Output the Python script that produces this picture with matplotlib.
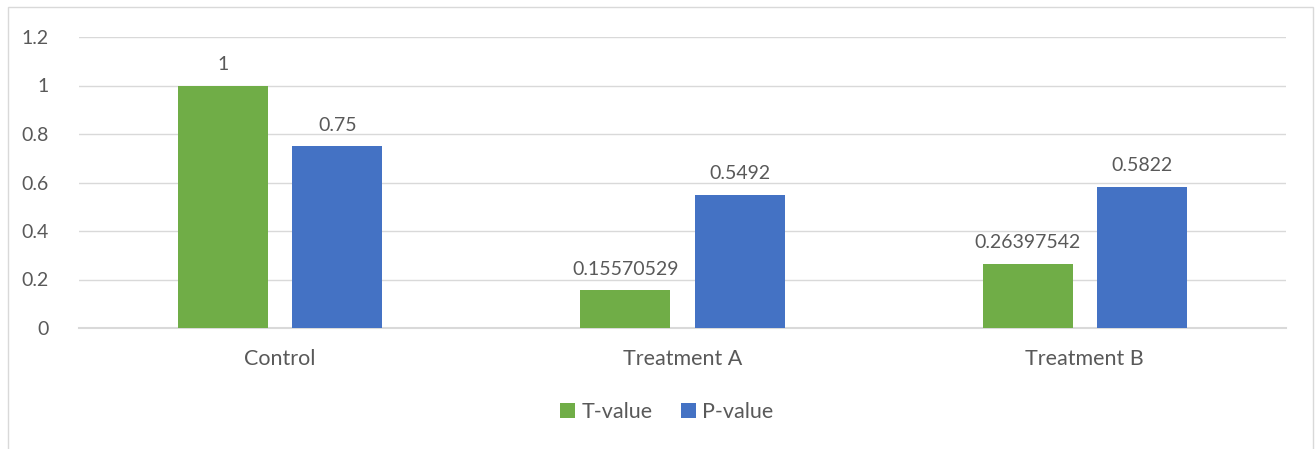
import numpy as np
import matplotlib.pyplot as plt
from matplotlib.patches import Rectangle

categories = ['Control', 'Treatment A', 'Treatment B']
t_values = [1, 0.15570529, 0.26397542]
p_values = [0.75, 0.5492, 0.5822]
t_labels = ['1', '0.15570529', '0.26397542']
p_labels = ['0.75', '0.5492', '0.5822']
yticks = [0, 0.2, 0.4, 0.6, 0.8, 1, 1.2]
ytick_labels = ['0', '0.2', '0.4', '0.6', '0.8', '1', '1.2']

plt.rcParams['font.family'] = ['Lato', 'DejaVu Sans']
text_color = '#595959'
grid_color = '#D9D9D9'

W, H = 1315, 449
fig = plt.figure(figsize=(W / 100, H / 100), dpi=100)
ax = fig.add_axes([79 / W, 1 - 328 / H, (1286 - 79) / W, (328 - 37) / H])

# chart border
fig.patches.append(Rectangle((8 / W, -0.01), (1313 - 8) / W, 1.01 - 7 / H,
                             transform=fig.transFigure, fill=False,
                             edgecolor=grid_color, linewidth=1))

x = np.arange(len(categories))
width = 0.224
offset = 0.142
b1 = ax.bar(x - offset, t_values, width, color='#70AD47', label='T-value', zorder=3)
b2 = ax.bar(x + offset, p_values, width, color='#4472C4', label='P-value', zorder=3)

for bars, labels in [(b1, t_labels), (b2, p_labels)]:
    for bar, lab in zip(bars, labels):
        ax.annotate(lab, (bar.get_x() + bar.get_width() / 2, bar.get_height()),
                    xytext=(0, 9), textcoords='offset points', ha='center', va='bottom',
                    fontsize=14, color=text_color)

ax.set_xlim(-0.5, 2.5)
ax.set_ylim(0, 1.2)
ax.set_yticks(yticks)
ax.set_yticklabels(ytick_labels)
ax.set_xticks(x)
ax.set_xticklabels(categories)
ax.tick_params(axis='y', length=0, labelsize=14, colors=text_color, pad=22)
ax.tick_params(axis='x', length=0, labelsize=15.5, colors=text_color, pad=15)
ax.grid(axis='y', color=grid_color, linewidth=1, zorder=0)
for s in ['top', 'right', 'left']:
    ax.spines[s].set_visible(False)
ax.spines['bottom'].set_color(grid_color)
ax.spines['bottom'].set_linewidth(1.5)

fig.legend(loc='center', bbox_to_anchor=(667 / W, 1 - 412 / H), ncol=2, frameon=False,
           fontsize=15.5, labelcolor=text_color, handlelength=0.7, handleheight=0.7,
           handletextpad=0.3, columnspacing=1.3)

fig.savefig('out.png', dpi=100)
